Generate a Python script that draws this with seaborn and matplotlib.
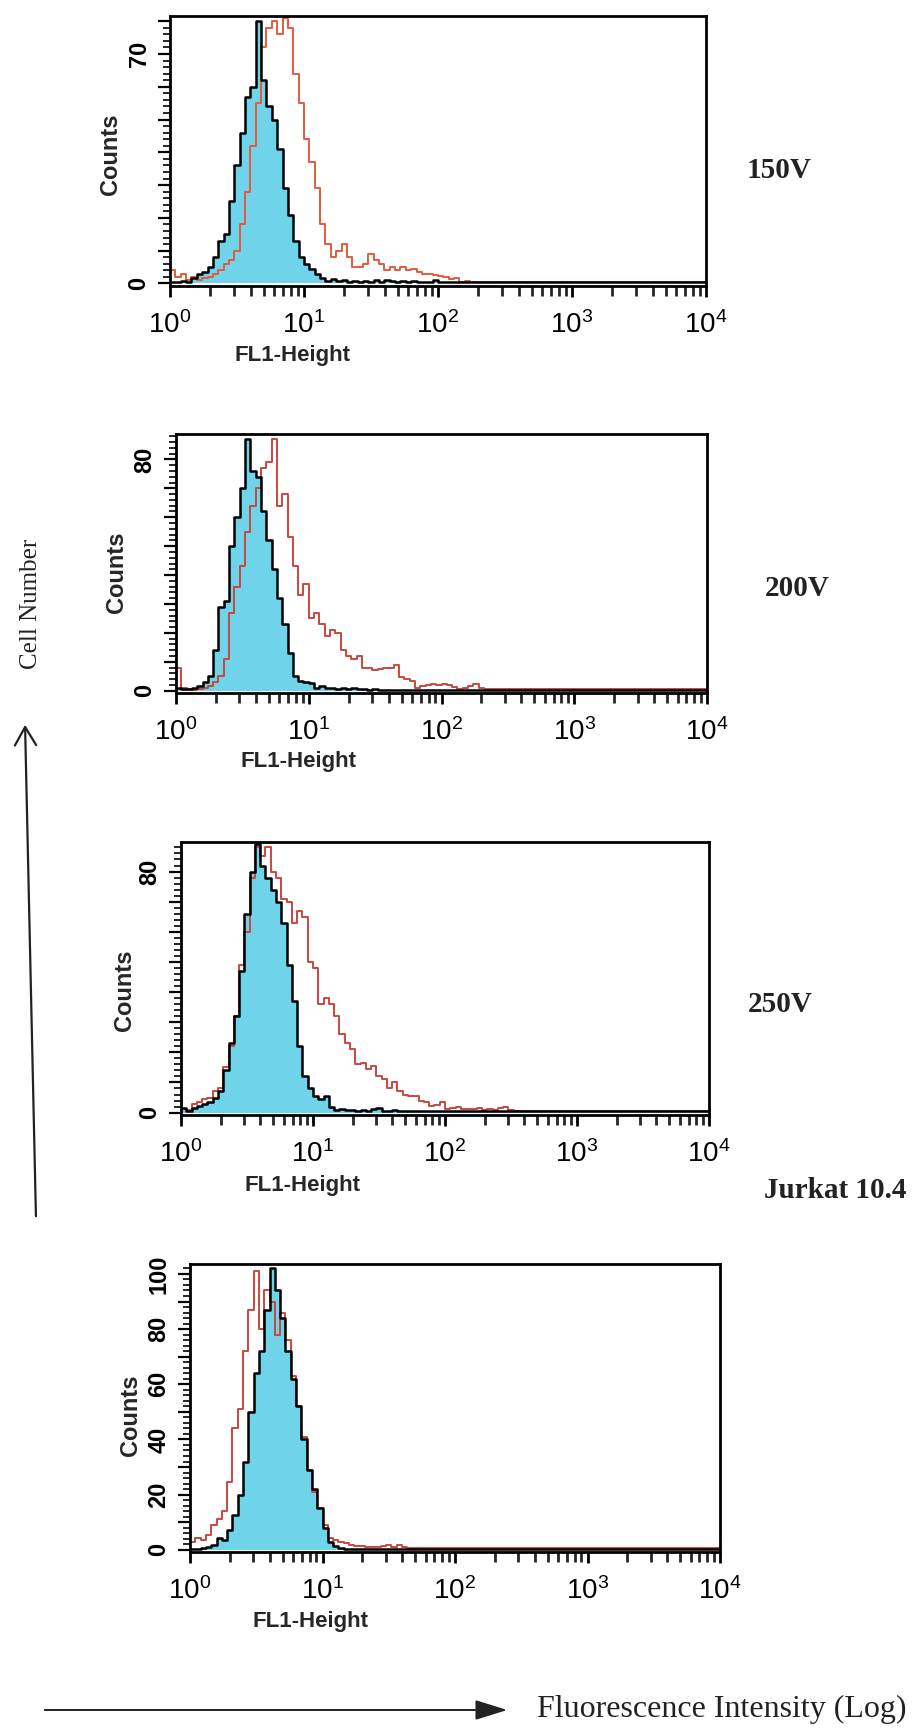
import numpy as np
import pandas as pd
import seaborn as sns
import matplotlib.pyplot as plt
from matplotlib.patches import FancyArrowPatch
from matplotlib.ticker import FixedLocator, MultipleLocator, FuncFormatter

# FL1 fluorescence channels: 25 channels per decade over four decades (log10 units)
N_DECADES = 4
PER_DECADE = 25

# Counts per channel: isotype control (cyan, black outline) and stained sample (red)
P1_CTRL = [0.5, 0.3, 0.8, 0.5, 1.5, 2.8, 3.5, 5, 8, 13, 15, 25, 36, 46, 57, 60, 80, 62, 54, 50,
           41, 29, 21, 13, 8, 6, 4.5, 3, 1.5, 0.8, 1.2, 0.6, 1.0, 0.5, 0.6, 0.4, 0.8, 0.5, 0.9, 0.5,
           1.0, 0.6, 0.5, 0.8, 0.5, 0.6, 0.5, 0.4, 0.5, 1.0, 0.5, 0.4, 0.5, 0.4, 0.4, 0.4, 0.4, 0.4, 0.4, 0.4,
           0.4, 0.4, 0.4, 0.4, 0.4, 0.4, 0.4, 0.4, 0.4, 0.4, 0.4, 0.4, 0.4, 0.4, 0.4, 0.4, 0.4, 0.4, 0.4, 0.4,
           0.4, 0.4, 0.4, 0.4, 0.4, 0.4, 0.4, 0.4, 0.4, 0.4, 0.4, 0.4, 0.4, 0.4, 0.4, 0.4, 0.4, 0.4, 0.4, 0.4]
P1_STIM = [4, 2, 3, 1, 2, 1, 1.5, 2, 3, 4, 6, 7, 10, 18, 28, 42, 55, 72, 78, 80,
           76, 81, 78, 64, 55, 44, 37, 29, 18, 12, 8, 10, 12, 8, 5, 5, 6, 9, 7, 6,
           4, 5, 4, 5, 4, 4.5, 3.5, 3, 3, 2.5, 2.3, 2, 1.3, 1.5, 0.5, 0.6, 0.5, 0.5, 0.5, 0.5,
           0.5, 0.5, 0.5, 0.5, 0.5, 0.5, 0.5, 0.5, 0.5, 0.5, 0.5, 0.5, 0.5, 0.5, 0.5, 0.5, 0.5, 0.5, 0.5, 0.5,
           0.5, 0.5, 0.5, 0.5, 0.5, 0.5, 0.5, 0.5, 0.5, 0.5, 0.5, 0.5, 0.5, 0.5, 0.5, 0.5, 0.5, 0.5, 0.5, 0.5]

P2_CTRL = [1, 0.5, 0.5, 1, 1.5, 3, 5, 14, 29, 31, 50, 60, 70, 87, 76, 74, 62, 52, 42, 32,
           23, 13, 5, 3.5, 3, 2.5, 0.8, 1.5, 0.8, 1, 0.6, 1, 0.5, 0.8, 0.5, 0.6, 0.4, 0.5, 0.4, 0.4,
           0.4, 0.4, 0.4, 0.4, 0.4, 0.4, 0.4, 0.4, 0.4, 0.4, 0.4, 0.4, 0.4, 0.4, 0.4, 0.4, 0.4, 0.4, 0.4, 0.4,
           0.4, 0.4, 0.4, 0.4, 0.4, 0.4, 0.4, 0.4, 0.4, 0.4, 0.4, 0.4, 0.4, 0.4, 0.4, 0.4, 0.4, 0.4, 0.4, 0.4,
           0.4, 0.4, 0.4, 0.4, 0.4, 0.4, 0.4, 0.4, 0.4, 0.4, 0.4, 0.4, 0.4, 0.4, 0.4, 0.4, 0.4, 0.4, 0.4, 0.4]
P2_STIM = [8, 1, 0.5, 0.3, 0.5, 1, 1.5, 3, 5, 11, 27, 36, 43, 55, 64, 70, 77, 79, 87, 64,
           68, 53, 43, 33, 37, 25, 27, 23, 19, 21, 20, 14, 12, 11, 12, 8, 8, 7, 7.5, 8,
           8, 9, 4.6, 4, 3.5, 0.8, 1.5, 2, 2.4, 2, 2.4, 1.8, 1.2, 0.7, 1, 1.5, 2.4, 0.8, 0.5, 0.5,
           0.5, 0.5, 0.5, 0.5, 0.5, 0.5, 0.5, 0.5, 0.5, 0.5, 0.5, 0.5, 0.5, 0.5, 0.5, 0.5, 0.5, 0.5, 0.5, 0.5,
           0.5, 0.5, 0.5, 0.5, 0.5, 0.5, 0.5, 0.5, 0.5, 0.5, 0.5, 0.5, 0.5, 0.5, 0.5, 0.5, 0.5, 0.5, 0.5, 0.5]

P3_CTRL = [1.5, 0.5, 1.5, 2.3, 3, 3.4, 5, 7, 14, 23, 32, 47, 66, 80, 89, 82, 78, 74, 70, 63,
           49, 37, 22, 12, 8, 5.6, 4.5, 5.6, 1.8, 0.7, 1.2, 0.8, 1, 0.6, 0.8, 0.5, 1.2, 1.5, 0.6, 0.5,
           0.8, 0.5, 0.6, 0.5, 0.5, 0.4, 0.6, 0.4, 0.4, 0.4, 0.4, 0.4, 0.4, 0.4, 0.4, 0.4, 0.4, 0.4, 0.4, 0.4,
           0.4, 0.4, 0.4, 0.4, 0.4, 0.4, 0.4, 0.4, 0.4, 0.4, 0.4, 0.4, 0.4, 0.4, 0.4, 0.4, 0.4, 0.4, 0.4, 0.4,
           0.4, 0.4, 0.4, 0.4, 0.4, 0.4, 0.4, 0.4, 0.4, 0.4, 0.4, 0.4, 0.4, 0.4, 0.4, 0.4, 0.4, 0.4, 0.4, 0.4]
P3_STIM = [1.2, 1, 3, 3.4, 4.5, 5, 7, 8, 15, 22, 32, 49, 60, 78, 88, 85, 88, 80, 78, 71,
           70, 63, 67, 65, 50, 48, 36, 38, 36, 32, 26, 23, 21, 16, 16.5, 14.5, 15.5, 12, 11, 8,
           10, 7, 6, 5.5, 5.5, 4, 3.4, 2.3, 2.6, 3.4, 1.2, 1.5, 1.8, 1.2, 1.2, 1.2, 1.5, 1, 1.2, 0.8,
           1.5, 1.8, 0.8, 0.5, 0.5, 0.5, 0.5, 0.5, 0.5, 0.5, 0.5, 0.5, 0.5, 0.5, 0.5, 0.5, 0.5, 0.5, 0.5, 0.5,
           0.5, 0.5, 0.5, 0.5, 0.5, 0.5, 0.5, 0.5, 0.5, 0.5, 0.5, 0.5, 0.5, 0.5, 0.5, 0.5, 0.5, 0.5, 0.5, 0.5]

P4_CTRL = [0.3, 0.3, 0.5, 1, 1.8, 4.2, 3.6, 7, 12.6, 20, 32, 50, 64, 72, 87, 102, 94, 84, 72, 62,
           52, 40, 29, 22, 15, 7.8, 3, 1.2, 0.6, 0.4, 0.3, 0.3, 0.3, 0.3, 0.3, 0.3, 0.3, 0.3, 0.3, 0.3,
           0.3, 0.3, 0.3, 0.3, 0.3, 0.3, 0.3, 0.3, 0.3, 0.3, 0.3, 0.3, 0.3, 0.3, 0.3, 0.3, 0.3, 0.3, 0.3, 0.3,
           0.3, 0.3, 0.3, 0.3, 0.3, 0.3, 0.3, 0.3, 0.3, 0.3, 0.3, 0.3, 0.3, 0.3, 0.3, 0.3, 0.3, 0.3, 0.3, 0.3,
           0.3, 0.3, 0.3, 0.3, 0.3, 0.3, 0.3, 0.3, 0.3, 0.3, 0.3, 0.3, 0.3, 0.3, 0.3, 0.3, 0.3, 0.3, 0.3, 0.3]
P4_STIM = [3, 4.2, 3.6, 5.4, 9, 11, 14, 24.6, 44, 51, 72, 87, 101, 80, 94, 90, 78, 86, 76, 63,
           52, 41, 29, 21, 15, 9, 4.2, 3.5, 3, 2.5, 1.8, 1.5, 1.2, 1.0, 1.0, 1.0, 1.2, 1.8, 1.0, 1.8,
           1.0, 0.8, 0.8, 0.8, 0.8, 0.8, 0.8, 0.8, 0.8, 0.8, 0.8, 0.8, 0.8, 0.8, 0.8, 0.8, 0.8, 0.8, 0.8, 0.8,
           0.8, 0.8, 0.8, 0.8, 0.8, 0.8, 0.8, 0.8, 0.8, 0.8, 0.8, 0.8, 0.8, 0.8, 0.8, 0.8, 0.8, 0.8, 0.8, 0.8,
           0.8, 0.8, 0.8, 0.8, 0.8, 0.8, 0.8, 0.8, 0.8, 0.8, 0.8, 0.8, 0.8, 0.8, 0.8, 0.8, 0.8, 0.8, 0.8, 0.8]

CONDITIONS = ["150V", "200V", "250V", "Jurkat 10.4"]
Y_TOP = [81.6, 88.8, 89.8, 103.6]
Y_LABELED = [[0, 70], [0, 80], [0, 80], [0, 20, 40, 60, 80, 100]]
DECADE_LABELS = ["$10^{0}$", "$10^{1}$", "$10^{2}$", "$10^{3}$", "$10^{4}$"]

CYAN = "#6fd3ea"
REDS = ["#e65a3c", "#c9473d", "#c9473d", "#c9473d"]

N_BINS = N_DECADES * PER_DECADE
for series in (P1_CTRL, P1_STIM, P2_CTRL, P2_STIM, P3_CTRL, P3_STIM, P4_CTRL, P4_STIM):
    assert len(series) == N_BINS

sns.set_theme(style="white")
plt.rcParams["font.family"] = ["Liberation Sans", "DejaVu Sans"]
plt.rcParams["mathtext.default"] = "regular"

W, H = 921, 1729
fig = plt.figure(figsize=(W / 100, H / 100), dpi=100)
fig.patch.set_facecolor("white")


def rect(x0, y0, x1, y1):
    return [x0 / W, 1 - y1 / H, (x1 - x0) / W, (y1 - y0) / H]


def fx(x):
    return x / W


def fy(y):
    return 1 - y / H


# channel centres in log10(FL1) units
centers = (np.arange(N_BINS) + 0.5) / PER_DECADE

panels = [
    dict(box=(170, 16, 706, 286), ctrl=P1_CTRL, stim=P1_STIM, counts=(110, 154), fl1=(292, 355), cond=(779, 171)),
    dict(box=(176, 434, 707, 693), ctrl=P2_CTRL, stim=P2_STIM, counts=(116, 572), fl1=(298, 761), cond=(797, 588)),
    dict(box=(181, 842, 709, 1115), ctrl=P3_CTRL, stim=P3_STIM, counts=(124, 990), fl1=(303, 1186), cond=(780, 1004)),
    dict(box=(190, 1264, 720, 1552), ctrl=P4_CTRL, stim=P4_STIM, counts=(130, 1415), fl1=(311, 1621), cond=(835, 1191)),
]

minor_x = [d + np.log10(k) for d in range(N_DECADES) for k in range(2, 10)]
hist_kw = dict(x="fl1", bins=N_BINS, binrange=(0, N_DECADES), element="step")

for i, p in enumerate(panels):
    df = pd.DataFrame({"fl1": centers, "ctrl": p["ctrl"], "stim": p["stim"]})
    ax = fig.add_axes(rect(*p["box"]))
    ax.set_facecolor("white")
    sns.histplot(data=df, weights="ctrl", fill=True, color=CYAN, alpha=1.0, linewidth=0,
                 ax=ax, **hist_kw)
    sns.histplot(data=df, weights="stim", fill=False, color=REDS[i], linewidth=1.4,
                 ax=ax, **hist_kw)
    sns.histplot(data=df, weights="ctrl", fill=False, color="black", linewidth=1.8,
                 ax=ax, **hist_kw)

    ax.set_xlim(0, N_DECADES)
    ax.set_ylim(-0.8, Y_TOP[i])
    ax.set_xlabel("")
    ax.set_ylabel("")

    ax.xaxis.set_major_locator(FixedLocator(range(N_DECADES + 1)))
    ax.xaxis.set_minor_locator(FixedLocator(minor_x))
    ax.xaxis.set_major_formatter(FuncFormatter(lambda v, pos: DECADE_LABELS[int(round(v))]))
    ax.tick_params(axis="x", which="major", bottom=True, direction="out", length=8, width=2,
                   pad=10, labelsize=20, colors="black")
    ax.tick_params(axis="x", which="minor", bottom=True, direction="out", length=7, width=2)

    labeled = Y_LABELED[i]
    ax.yaxis.set_major_locator(MultipleLocator(10))
    ax.yaxis.set_minor_locator(MultipleLocator(2))
    ax.yaxis.set_major_formatter(FuncFormatter(
        lambda v, pos, lab=labeled: f"{int(round(v))}" if int(round(v)) in lab and abs(v - round(v)) < 1e-6 else ""))
    ax.tick_params(axis="y", which="major", left=True, direction="out", length=9, width=1.6,
                   pad=5, labelsize=17, labelrotation=90, colors="black")
    ax.tick_params(axis="y", which="minor", left=True, direction="out", length=5, width=1.4)
    for lab in ax.get_yticklabels():
        lab.set_fontweight("bold")
        lab.set_va("center")

    for s in ax.spines.values():
        s.set_visible(True)
        s.set_color("black")
        s.set_linewidth(2.0)

    cx, cy = p["counts"]
    fig.text(fx(cx), fy(cy), "Counts", rotation=90, ha="center", va="center",
             fontsize=17, fontweight="bold")
    lx, ly = p["fl1"]
    fig.text(fx(lx), fy(ly), "FL1-Height", ha="center", va="center", fontsize=16,
             fontweight="bold")
    tx, ty = p["cond"]
    fig.text(fx(tx), fy(ty), CONDITIONS[i], ha="center", va="center", fontsize=21,
             fontweight="bold", family=["Liberation Serif", "DejaVu Serif"], color="#222222")

# Axis arrows for the whole panel set
up = FancyArrowPatch((fx(36), fy(1219)), (fx(25), fy(722)), transform=fig.transFigure,
                     arrowstyle="->,head_length=0.6,head_width=0.35", mutation_scale=22,
                     lw=1.6, color="#222222")
fig.add_artist(up)
right = FancyArrowPatch((fx(42), fy(1710)), (fx(510), fy(1710)), transform=fig.transFigure,
                        arrowstyle="-|>,head_length=0.9,head_width=0.28", mutation_scale=22,
                        lw=1.4, color="#222222")
fig.add_artist(right)

fig.text(fx(31), fy(604), "Cell Number", rotation=90, ha="center", va="center", fontsize=18,
         family=["Liberation Serif", "DejaVu Serif"], color="#222222")
fig.text(fx(537), fy(1709), "Fluorescence Intensity (Log)", ha="left", va="center", fontsize=23,
         family=["Liberation Serif", "DejaVu Serif"], color="#222222")

fig.savefig("out.png", dpi=100, facecolor="white")
